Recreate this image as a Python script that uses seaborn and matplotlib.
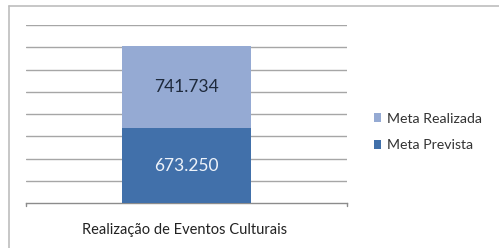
import matplotlib
matplotlib.use("Agg")
import matplotlib.pyplot as plt
import seaborn as sns
import pandas as pd
from matplotlib.lines import Line2D
from matplotlib.patches import Patch

categories = ["Realização de Eventos Culturais"]
series_names = ["Meta Prevista", "Meta Realizada"]
meta_prevista = [673.250]
meta_realizada = [741.734]
value_labels_prevista = ["673.250"]
value_labels_realizada = ["741.734"]

colors = {"Meta Prevista": "#4170AA", "Meta Realizada": "#95AAD3"}

sns.set_theme(style="white")
plt.rcParams["font.family"] = ["Lato", "DejaVu Sans"]

W, H = 499, 248
fig = plt.figure(figsize=(W / 100, H / 100), dpi=100)
ax = fig.add_axes([26 / W, 1 - 203 / H, (347 - 26) / W, (203 - 25) / H])

df = pd.DataFrame({
    "cat": categories * 2,
    "serie": ["Meta Prevista"] * len(categories) + ["Meta Realizada"] * len(categories),
    "valor": meta_prevista + meta_realizada,
})

# gridlines
for y in range(200, 1601, 200):
    ax.axhline(y, color="#A6A6A6", lw=1.0, zorder=0)

# stacked bars via seaborn (total first, then bottom segment over it)
totals = df.groupby("cat", sort=False)["valor"].sum().reset_index()
sns.barplot(data=totals, x="cat", y="valor", color=colors["Meta Realizada"],
            width=0.4, saturation=1, ax=ax, zorder=2, linewidth=0, edgecolor="none")
sns.barplot(data=df[df["serie"] == "Meta Prevista"], x="cat", y="valor",
            color=colors["Meta Prevista"], width=0.4, saturation=1, ax=ax, zorder=3,
            linewidth=0, edgecolor="none")

for i, c in enumerate(categories):
    ax.text(i, meta_prevista[i] / 2, value_labels_prevista[i], ha="center", va="center",
            fontsize=12.5, color="#EEF3FA", zorder=5)
    ax.text(i, meta_prevista[i] + meta_realizada[i] / 2, value_labels_realizada[i],
            ha="center", va="center", fontsize=12.5, color="#1E2A3C", zorder=5)

ax.set_ylim(0, 1600)
ax.set_xlim(-0.5, 0.5)
ax.set_yticks([])
ax.set_xticks([])
ax.set_xlabel("")
ax.set_ylabel("")
for s in ["top", "right", "left"]:
    ax.spines[s].set_visible(False)
ax.spines["bottom"].set_color("#8C8C8C")
ax.spines["bottom"].set_linewidth(1.0)
# end tick marks on category axis
for xx in (-0.5, 0.5):
    ax.plot([xx, xx], [0, -30], color="#8C8C8C", lw=1.0, clip_on=False)

fig.text(185 / W, 1 - 230 / H, categories[0], ha="center", va="center",
         fontsize=10.5, color="#222222")

handles = [Patch(facecolor=colors["Meta Realizada"], edgecolor="none", label="Meta Realizada"),
           Patch(facecolor=colors["Meta Prevista"], edgecolor="none", label="Meta Prevista")]
leg = fig.legend(handles=handles, loc="center left", bbox_to_anchor=(368 / W, 1 - 132 / H),
                 frameon=False, fontsize=10.2, handlelength=0.55, handleheight=0.55,
                 handletextpad=0.4, labelspacing=1.05, borderaxespad=0)
for t in leg.get_texts():
    t.set_color("#333333")

# outer border (left and top visible)
fig.add_artist(Line2D([9 / W, 9 / W], [0, 1 - 6 / H], transform=fig.transFigure,
                      color="#BDBDBD", lw=1.2))
fig.add_artist(Line2D([9 / W, 1], [1 - 6 / H, 1 - 6 / H], transform=fig.transFigure,
                      color="#BDBDBD", lw=1.2))

fig.savefig("out.png", dpi=100, facecolor="white")
